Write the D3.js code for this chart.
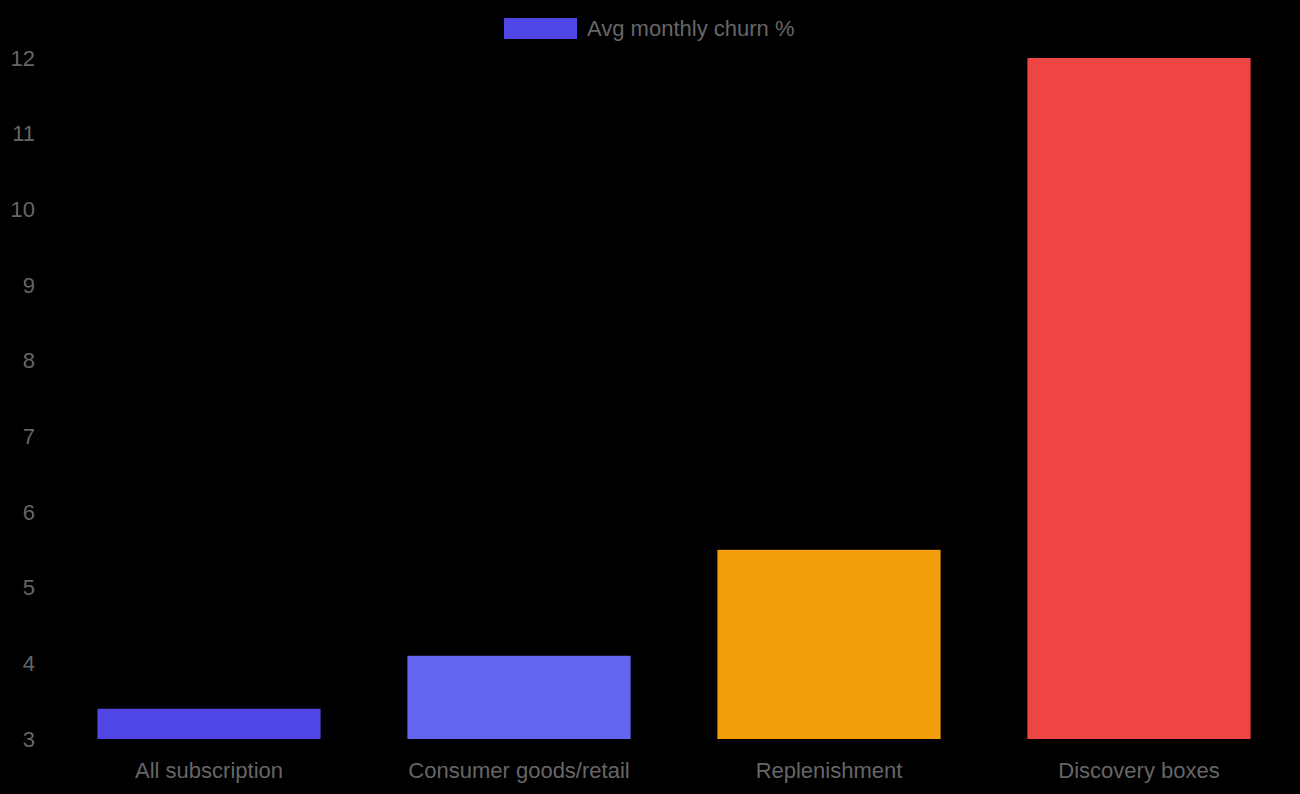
<!DOCTYPE html>
<html>
<head>
<meta charset="utf-8">
<script src="https://cdn.jsdelivr.net/npm/d3@7"></script>
<style>
  html, body { margin: 0; padding: 0; background: #000; }
  svg { display: block; }
</style>
</head>
<body>
<div id="chart"></div>
<script>
// Chart data
const categories = ["All subscription", "Consumer goods/retail", "Replenishment", "Discovery boxes"]
const churnValues = [3.4, 4.1, 5.5, 12]
const barColors = ["#4f46e5", "#6366f1", "#f59e0b", "#ef4444"]
const yTicks = [3, 4, 5, 6, 7, 8, 9, 10, 11, 12]
const seriesName = "Avg monthly churn %"

const WIDTH = 1300
const HEIGHT = 794
const PLOT = {LEFT: 54, RIGHT: 1294, TOP: 58, BOTTOM: 739}
const FONT = "Liberation Sans, Arial, Helvetica, sans-serif"
const FONT_SIZE = "22px"
const TEXT_COLOR = "#666"

let svg = d3.select("#chart").append("svg")
    .attr("width", WIDTH)
    .attr("height", HEIGHT)

svg.append("rect")
    .attr("width", WIDTH)
    .attr("height", HEIGHT)
    .attr("fill", "#000")

// Scales
let xScale = d3.scaleBand()
    .domain(categories)
    .range([PLOT.LEFT, PLOT.RIGHT])
    .paddingInner(0)
    .paddingOuter(0)

let yScale = d3.scaleLinear()
    .domain([3, 12])
    .range([PLOT.BOTTOM, PLOT.TOP])

const barWidth = xScale.bandwidth() * 0.72

// Bars
svg.selectAll("rect.bar")
    .data(categories)
    .enter()
    .append("rect")
        .attr("class", "bar")
        .attr("x", d => xScale(d) + (xScale.bandwidth() - barWidth) / 2)
        .attr("y", (d, i) => yScale(churnValues[i]))
        .attr("width", barWidth)
        .attr("height", (d, i) => yScale(3) - yScale(churnValues[i]))
        .attr("fill", (d, i) => barColors[i])

// Y axis (labels only)
let yAxis = svg.append("g")
    .attr("transform", "translate(" + (PLOT.LEFT - 19) + ",0)")
    .call(d3.axisLeft(yScale).tickValues(yTicks).tickSize(0).tickPadding(0).tickFormat(d3.format("d")))
yAxis.select(".domain").remove()
yAxis.selectAll("text")
    .attr("fill", TEXT_COLOR)
    .style("font-family", FONT)
    .style("font-size", FONT_SIZE)

// X axis (labels only)
let xAxis = svg.append("g")
    .attr("transform", "translate(0," + PLOT.BOTTOM + ")")
    .call(d3.axisBottom(xScale).tickSize(0).tickPadding(23))
xAxis.select(".domain").remove()
xAxis.selectAll("text")
    .attr("fill", TEXT_COLOR)
    .style("font-family", FONT)
    .style("font-size", FONT_SIZE)

// Legend
let legend = svg.append("g")
legend.append("rect")
    .attr("x", 504)
    .attr("y", 18)
    .attr("width", 73)
    .attr("height", 21)
    .attr("fill", barColors[0])
legend.append("text")
    .attr("x", 587)
    .attr("y", 36)
    .attr("fill", TEXT_COLOR)
    .style("font-family", FONT)
    .style("font-size", FONT_SIZE)
    .text(seriesName)
</script>
</body>
</html>
